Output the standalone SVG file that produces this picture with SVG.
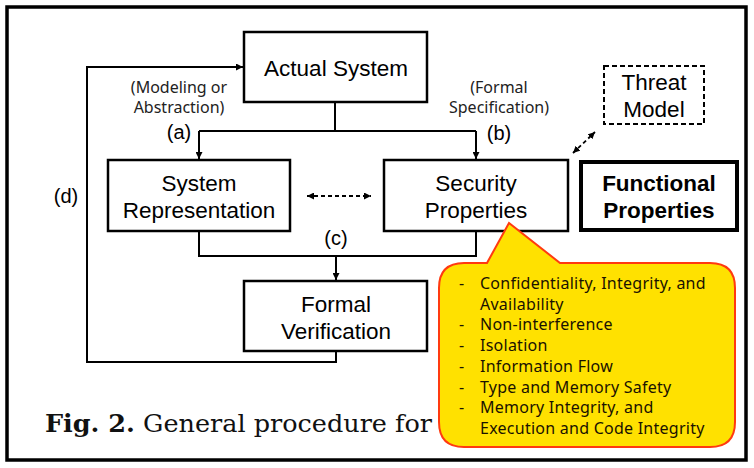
<svg xmlns="http://www.w3.org/2000/svg" width="754" height="468" viewBox="0 0 754 468">
<defs>
<marker id="ah" viewBox="0 0 10 10" refX="10" refY="5" markerWidth="7" markerHeight="7" markerUnits="userSpaceOnUse" orient="auto-start-reverse"><path d="M0,0 L10,5 L0,10 z" fill="#000"/></marker>
<style>
.box{fill:#fff;stroke:#000;stroke-width:2.5}
.lbl{font-family:"Liberation Sans",Arial,sans-serif;font-size:22.5px;fill:#000;text-anchor:middle}
.small{font-family:"Noto Sans","Open Sans",sans-serif;font-size:16px;fill:#222;text-anchor:middle}
.tag{font-family:"Liberation Sans",Arial,sans-serif;font-size:20px;fill:#000;text-anchor:middle}
.ln{fill:none;stroke:#000;stroke-width:2}
.dash{fill:none;stroke:#000;stroke-width:1.8;stroke-dasharray:4,3}
.co{font-family:"Noto Sans","Open Sans",sans-serif;font-size:16px;fill:#1a1200;letter-spacing:0.25px}
</style>
</defs>
<rect x="0" y="0" width="754" height="468" fill="#fff"/>
<rect x="7" y="7" width="739" height="453" fill="#fff" stroke="#000" stroke-width="3.5"/>

<g id="connectors">
<path class="ln" d="M335,102 V131"/>
<path class="ln" d="M199,131 H476"/>
<path class="ln" d="M199,131 V159" marker-end="url(#ah)"/>
<path class="ln" d="M476,131 V159" marker-end="url(#ah)"/>
<path class="ln" d="M199,231 V256 H476 V231"/>
<path class="ln" d="M336,256 V280" marker-end="url(#ah)"/>
<path class="ln" d="M336,351 V362 H87 V67 H243" marker-end="url(#ah)"/>
<path class="dash" d="M307,196 H371" marker-start="url(#ah)" marker-end="url(#ah)"/>
<path class="dash" d="M573,153 L595,132" marker-start="url(#ah)" marker-end="url(#ah)"/>
<text class="small" x="179" y="93">(Modeling or</text>
<text class="small" x="179" y="113">Abstraction)</text>
<text class="tag" x="179" y="139">(a)</text>
<text class="small" x="499" y="93">(Formal</text>
<text class="small" x="499" y="113">Specification)</text>
<text class="tag" x="499" y="140">(b)</text>
<text class="tag" x="336" y="245">(c)</text>
<text class="tag" x="66" y="203">(d)</text>
</g>

<g id="actual-system">
<rect class="box" x="244" y="32" width="183" height="70"/>
<text class="lbl" x="336" y="76">Actual System</text>
</g>
<g id="system-representation">
<rect class="box" x="108" y="160" width="182" height="71"/>
<text class="lbl" x="199" y="191">System</text>
<text class="lbl" x="199" y="218">Representation</text>
</g>
<g id="security-properties">
<rect class="box" x="384" y="160" width="184" height="71"/>
<text class="lbl" x="476" y="191">Security</text>
<text class="lbl" x="476" y="218">Properties</text>
</g>
<g id="functional-properties">
<rect x="581" y="162" width="156" height="68" fill="#fff" stroke="#000" stroke-width="4"/>
<text class="lbl" x="659" y="191" font-weight="bold" font-size="21">Functional</text>
<text class="lbl" x="659" y="218" font-weight="bold" font-size="21">Properties</text>
</g>
<g id="threat-model">
<rect x="604" y="66" width="100" height="58" fill="#fff" stroke="#000" stroke-width="2" stroke-dasharray="5,3"/>
<text class="lbl" x="654" y="90">Threat</text>
<text class="lbl" x="654" y="117">Model</text>
</g>
<g id="formal-verification">
<rect class="box" x="244" y="281" width="183" height="70"/>
<text class="lbl" x="336" y="312">Formal</text>
<text class="lbl" x="336" y="339">Verification</text>
</g>

<text x="45" y="432" font-family="'DejaVu Serif','Liberation Serif',serif" font-size="25" fill="#111" textLength="387" lengthAdjust="spacingAndGlyphs"><tspan font-weight="bold">Fig. 2.</tspan> General procedure for</text>

<g id="callout">
<path d="M464,263 H487 L509,223 L560,263 H710 Q735,263 735,288 V422 Q735,447 710,447 H464 Q439,447 439,422 V288 Q439,263 464,263 Z" fill="#FFE100" stroke="#FF3A10" stroke-width="2"/>
<g class="co">
<text x="459" y="289">-</text><text x="480" y="289">Confidentiality, Integrity, and</text>
<text x="480" y="310">Availability</text>
<text x="459" y="330">-</text><text x="480" y="330">Non-interference</text>
<text x="459" y="351">-</text><text x="480" y="351">Isolation</text>
<text x="459" y="372">-</text><text x="480" y="372">Information Flow</text>
<text x="459" y="393">-</text><text x="480" y="393">Type and Memory Safety</text>
<text x="459" y="413">-</text><text x="480" y="413">Memory Integrity, and</text>
<text x="480" y="434">Execution and Code Integrity</text>
</g>
</g>
</svg>
